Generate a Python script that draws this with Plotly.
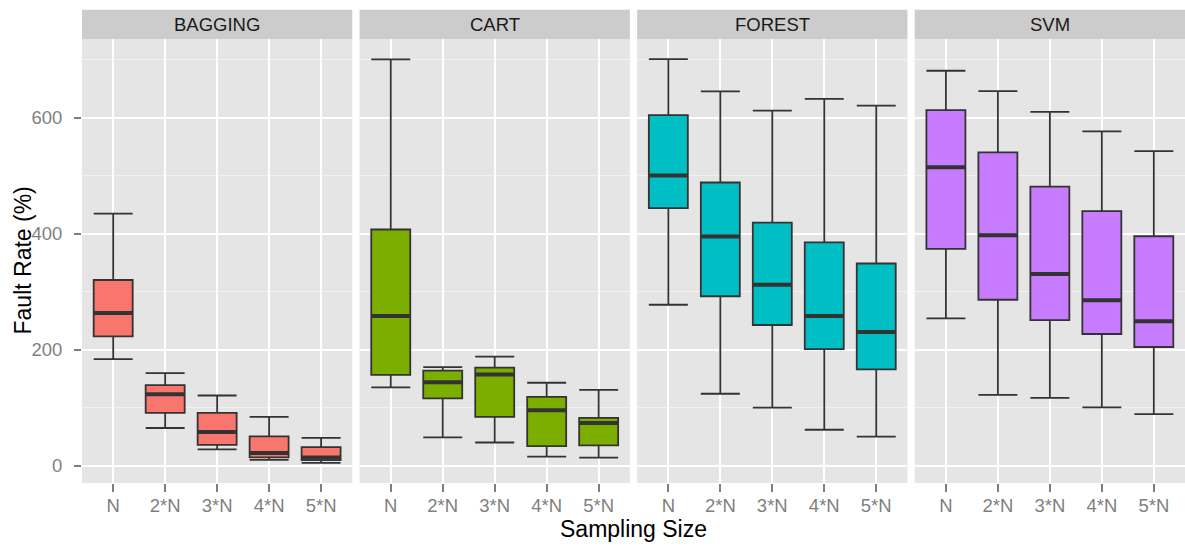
import plotly.graph_objects as go

methods = ["BAGGING", "CART", "FOREST", "SVM"]
sizes = ["N", "2*N", "3*N", "4*N", "5*N"]
colors = ["#F8766D", "#7CAE00", "#00BFC4", "#C77CFF"]

# per-method box statistics, one value per sampling size
bagging_low = [183.5, 65, 28, 10, 5]
bagging_q1 = [223, 91, 36, 14.5, 9.6]
bagging_med = [263, 123, 58, 22, 14]
bagging_q3 = [320, 139, 91, 50.5, 32]
bagging_high = [434.5, 159.5, 121, 84, 48]

cart_low = [135, 49, 40, 15.6, 14]
cart_q1 = [156.5, 116, 84, 33.7, 35]
cart_med = [258, 144, 157, 95.7, 73.4]
cart_q3 = [407, 163.7, 169, 118.5, 82.4]
cart_high = [700, 170, 188, 143, 130.6]

forest_low = [277.4, 124, 100, 62, 50]
forest_q1 = [444, 292, 242.5, 201, 166]
forest_med = [500, 395, 312, 258, 230.5]
forest_q3 = [604, 488, 419, 385, 348.4]
forest_high = [700.5, 645, 612, 632, 620.5]

svm_low = [254, 122, 117, 100.5, 89]
svm_q1 = [373.7, 286, 251, 227, 204.6]
svm_med = [514.5, 397, 330.4, 285, 249]
svm_q3 = [612.6, 539.8, 481, 438.7, 395.4]
svm_high = [680.6, 645.6, 609.6, 576, 542]

stats = {
    "BAGGING": (bagging_low, bagging_q1, bagging_med, bagging_q3, bagging_high),
    "CART": (cart_low, cart_q1, cart_med, cart_q3, cart_high),
    "FOREST": (forest_low, forest_q1, forest_med, forest_q3, forest_high),
    "SVM": (svm_low, svm_q1, svm_med, svm_q3, svm_high),
}

y_ticks = [0, 200, 400, 600]

# layout geometry (pixels)
W, H = 1185, 548
ML, MR, MT, MB = 82, 0, 39.3, 65.3
plot_w = W - ML - MR
plot_h = H - MT - MB
gap = 7.3 / plot_w
pw = (1 - 3 * gap) / 4
strip_h = 29.3 / plot_h

box_w = 0.75
all_low = min(min(s[0]) for s in stats.values())
all_high = max(max(s[4]) for s in stats.values())
span = all_high - all_low
y_range = [all_low - 0.05 * span, all_high + 0.05 * span]

tick_font = dict(family="Liberation Sans, Arial, sans-serif", size=18.5, color="#7F7F7F")
fig = go.Figure()
shapes = []
annotations = []
pos = list(range(len(sizes)))

for i, m in enumerate(methods):
    low, q1, med, q3, high = stats[m]
    xa = "x" if i == 0 else f"x{i+1}"
    ya = "y" if i == 0 else f"y{i+1}"
    fig.add_trace(go.Box(
        x=pos, lowerfence=low, q1=q1, median=med, q3=q3, upperfence=high,
        fillcolor=colors[i], line=dict(color="#333333", width=1.8),
        whiskerwidth=1, width=box_w, boxpoints=False, showlegend=False,
        hoverinfo="skip", xaxis=xa, yaxis=ya,
    ))
    mx, my = [], []
    for p, v in zip(pos, med):
        mx += [p - box_w / 2, p + box_w / 2, None]
        my += [v, v, None]
    fig.add_trace(go.Scatter(
        x=mx, y=my, mode="lines", line=dict(color="#333333", width=4),
        showlegend=False, hoverinfo="skip", xaxis=xa, yaxis=ya,
    ))
    d0 = i * (pw + gap)
    d1 = d0 + pw
    xkey = "xaxis" if i == 0 else f"xaxis{i+1}"
    ykey = "yaxis" if i == 0 else f"yaxis{i+1}"
    fig.layout[xkey] = dict(
        domain=[d0, d1], range=[-0.6, len(sizes) - 0.4],
        tickvals=pos, ticktext=sizes, showgrid=True, gridcolor="white",
        gridwidth=2, zeroline=False, showline=False, ticks="outside",
        ticklen=8, tickwidth=1.5, tickcolor="#7F7F7F", tickfont=tick_font,
        anchor=ya, fixedrange=True, ticklabelstandoff=-2,
    )
    fig.layout[ykey] = dict(
        domain=[0, 1], range=y_range, tickvals=y_ticks,
        showgrid=True, gridcolor="white", gridwidth=2, zeroline=False,
        showline=False, anchor=xa, fixedrange=True,
        minor=dict(dtick=100, tick0=0, showgrid=True, gridcolor="#F2F2F2",
                   gridwidth=1, ticks=""),
        showticklabels=(i == 0), ticks="outside" if i == 0 else "",
        ticklen=7, tickwidth=1.5, tickcolor="#7F7F7F", tickfont=tick_font,
        ticklabelstandoff=8,
    )
    if i > 0:
        fig.layout[ykey]["matches"] = "y"
    shapes.append(dict(type="rect", xref="paper", yref="paper",
                       x0=d0, x1=d1, y0=1, y1=1 + strip_h,
                       fillcolor="#CCCCCC", line=dict(width=0), layer="below"))
    annotations.append(dict(text=m, xref="paper", yref="paper",
                            x=(d0 + d1) / 2, y=1 + strip_h / 2,
                            xanchor="center", yanchor="middle", showarrow=False,
                            font=dict(family="Liberation Sans, Arial, sans-serif",
                                      size=18.5, color="#1A1A1A")))

annotations.append(dict(text="Fault Rate (%)", xref="paper", yref="paper",
                        x=(22.5 - ML) / plot_w, y=0.5, textangle=-90,
                        xanchor="center", yanchor="middle", showarrow=False,
                        font=dict(family="Liberation Sans, Arial, sans-serif",
                                  size=23, color="black")))
annotations.append(dict(text="Sampling Size", xref="paper", yref="paper",
                        x=0.5, y=(plot_h - (529 - MT)) / plot_h,
                        xanchor="center", yanchor="middle", showarrow=False,
                        font=dict(family="Liberation Sans, Arial, sans-serif",
                                  size=23, color="black")))

fig.update_layout(
    width=W, height=H, margin=dict(l=ML, r=MR, t=MT, b=MB, pad=0),
    paper_bgcolor="white", plot_bgcolor="#E5E5E5",
    shapes=shapes, annotations=annotations, showlegend=False,
)

fig.write_html("out.html", config={"displayModeBar": False})
